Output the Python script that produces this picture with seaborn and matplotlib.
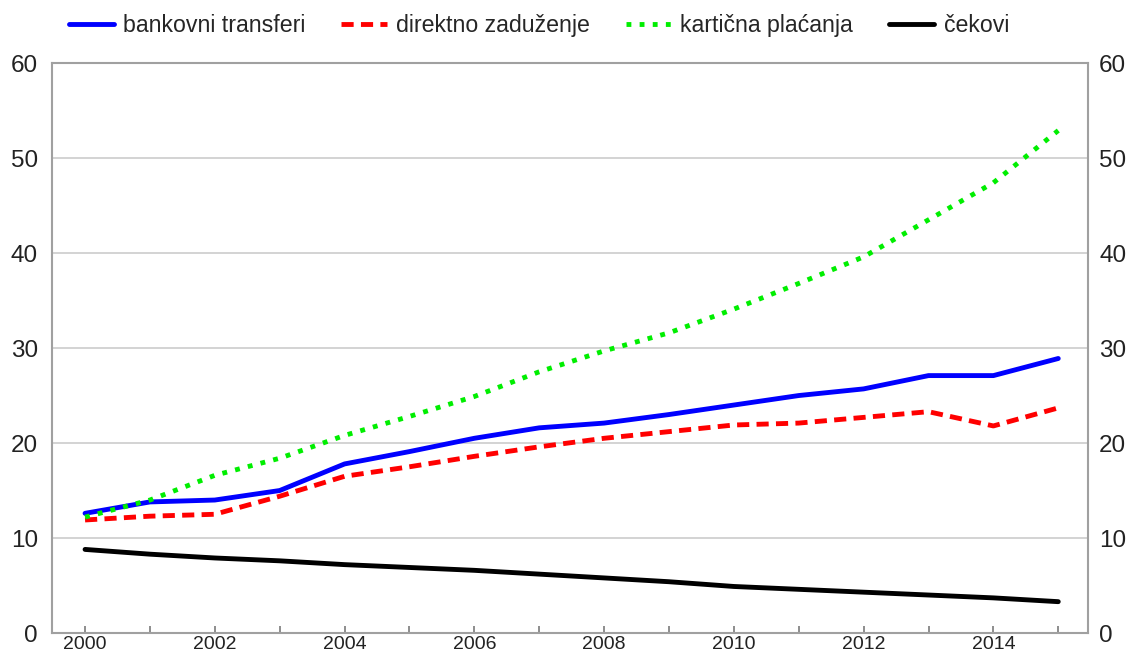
import numpy as np
import pandas as pd
import matplotlib
matplotlib.use("Agg")
import matplotlib.pyplot as plt
import seaborn as sns

years = list(range(2000, 2016))
bankovni = [12.6, 13.8, 14.0, 15.0, 17.8, 19.1, 20.5, 21.6, 22.1, 23.0, 24.0, 25.0, 25.7, 27.1, 27.1, 28.9]
direktno = [11.9, 12.3, 12.5, 14.4, 16.5, 17.5, 18.6, 19.6, 20.5, 21.2, 21.9, 22.1, 22.7, 23.3, 21.8, 23.7]
karticna = [12.2, 14.0, 16.6, 18.4, 20.8, 22.8, 24.9, 27.5, 29.7, 31.6, 34.1, 36.8, 39.6, 43.5, 47.4, 52.9]
cekovi = [8.8, 8.3, 7.9, 7.6, 7.2, 6.9, 6.6, 6.2, 5.8, 5.4, 4.9, 4.6, 4.3, 4.0, 3.7, 3.3]

names = ["bankovni transferi", "direktno zaduženje", "kartična plaćanja", "čekovi"]
series = [bankovni, direktno, karticna, cekovi]
colors = ["#0000ff", "#ff0000", "#00ee00", "#000000"]
styles = ["-", (0, (2.5, 1.5)), (0, (1, 1.7)), "-"]

df = pd.concat([pd.DataFrame({"year": years, "value": v, "name": n}) for n, v in zip(names, series)])

sns.set_theme(style="white")
plt.rcParams['font.family'] = ['Liberation Sans', 'DejaVu Sans']

fig = plt.figure(figsize=(11.37, 6.57), dpi=100)
ax = fig.add_axes([0.0457, 0.0365, 0.9113, 0.8675])

for n, c, ls in zip(names, colors, styles):
    sub = df[df["name"] == n]
    sns.lineplot(data=sub, x="year", y="value", ax=ax, color=c, linewidth=3.5,
                 linestyle=ls, label=n)

ax.set_xlim(1999.49, 2015.46)
ax.set_ylim(0, 60)
ax.set_yticks(range(0, 61, 10))
ax.set_xticks(range(2000, 2016))
ax.set_xticklabels([str(y) if y % 2 == 0 else "" for y in range(2000, 2016)])
ax.grid(axis="y", color="#cccccc", linewidth=1.2)
ax.set_xlabel("")
ax.set_ylabel("")
for s in ax.spines.values():
    s.set_color("#a0a0a0")
    s.set_linewidth(1.5)
ax.tick_params(axis="x", direction="in", length=5, color="#808080", labelsize=14,
               pad=2, bottom=True, labelcolor="#222222")
ax.tick_params(axis="y", length=0, labelsize=17.5, labelcolor="#222222", pad=10)

ax2 = ax.twinx()
ax2.set_ylim(0, 60)
ax2.set_yticks(range(0, 61, 10))
ax2.tick_params(axis="y", length=0, labelsize=17.5, labelcolor="#222222", pad=8)
for s in ax2.spines.values():
    s.set_visible(False)

ax.get_legend().remove()
handles, labels = ax.get_legend_handles_labels()
fig.legend(handles, labels, loc="upper left", bbox_to_anchor=(0.042, 1.01), ncol=4,
           frameon=False, fontsize=16.7, handlelength=1.95, handletextpad=0.4,
           columnspacing=1.55)

fig.savefig("out.png", dpi=100)
